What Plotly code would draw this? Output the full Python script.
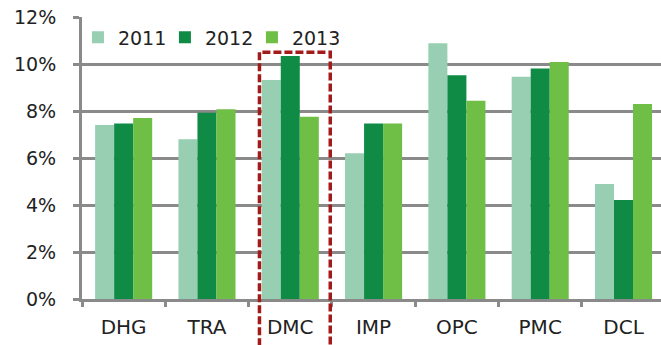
import plotly.graph_objects as go

# Categories and yearly rates (percent)
categories = ["DHG", "TRA", "DMC", "IMP", "OPC", "PMC", "DCL"]
years = ["2011", "2012", "2013"]
rate_2011 = [7.40, 6.80, 9.32, 6.20, 10.88, 9.46, 4.89]
rate_2012 = [7.47, 7.93, 10.34, 7.47, 9.52, 9.81, 4.21]
rate_2013 = [7.70, 8.07, 7.76, 7.47, 8.44, 10.09, 8.30]
y_ticks = [0, 2, 4, 6, 8, 10, 12]
highlight = "DMC"

series = [rate_2011, rate_2012, rate_2013]
colors = ["#98cfb3", "#0f8b46", "#6fbe45"]

fig = go.Figure()
for name, vals, col in zip(years, series, colors):
    fig.add_trace(go.Bar(
        x=categories, y=vals, name=name,
        marker=dict(color=col, line=dict(width=0)),
    ))

font_family = "DejaVu Sans, Verdana, sans-serif"
grey = "#8a8a8a"
y_max = y_ticks[-1]

# Dashed highlight frame around the selected category
hi = categories.index(highlight)
fig.add_shape(
    type="rect", xref="x", yref="paper",
    x0=hi - 0.37, x1=hi + 0.48,
    y0=-0.3, y1=10.5 / y_max,
    line=dict(color="#a31a1a", width=3.5, dash="8px,3px"),
    fillcolor="rgba(0,0,0,0)", layer="above",
)

fig.update_layout(
    width=661, height=345,
    margin=dict(l=82, r=0, t=17, b=46),
    paper_bgcolor="white", plot_bgcolor="white",
    barmode="group", bargap=0.315, bargroupgap=0,
    font=dict(family=font_family, size=18, color="#222222"),
    showlegend=True,
    legend=dict(
        orientation="h", x=-0.007, y=0.995, xanchor="left", yanchor="top",
        bgcolor="rgba(0,0,0,0)", font=dict(size=19),
        itemwidth=30, tracegroupgap=0,
        entrywidth=42, entrywidthmode="pixels",
    ),
    xaxis=dict(
        type="category", range=[-0.5, 6.45],
        showline=True, linecolor=grey, linewidth=3,
        ticks="outside", tickson="boundaries", ticklen=5, tickwidth=3, tickcolor=grey,
        showgrid=False, ticklabelstandoff=8,
        tickfont=dict(size=20),
    ),
    yaxis=dict(
        range=[0, y_max], tickvals=y_ticks,
        ticktext=[f"{v}%" for v in y_ticks],
        showline=True, linecolor=grey, linewidth=3,
        ticks="outside", ticklen=6, tickwidth=2.5, tickcolor=grey,
        showgrid=True, gridcolor=grey, gridwidth=2.5,
        zeroline=False, ticklabelstandoff=13,
        tickfont=dict(size=19),
    ),
)

fig.write_html("out.html")
